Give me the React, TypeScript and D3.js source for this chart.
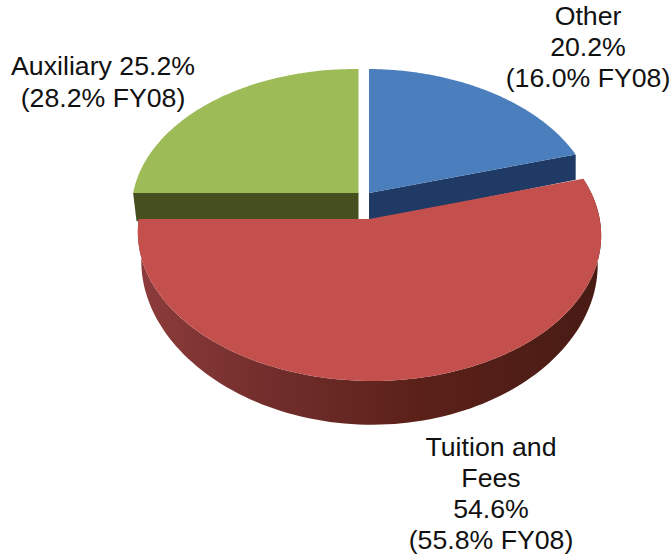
import * as d3 from 'd3'

const categories = ['Other', 'Tuition and Fees', 'Auxiliary']
const shares = [20.2, 54.6, 25.2]

const otherLabel = ['Other', '20.2%', '(16.0% FY08)']
const tuitionLabel = ['Tuition and', 'Fees', '54.6%', '(55.8% FY08)']
const auxiliaryLabel = ['Auxiliary 25.2%', '(28.2% FY08)']

const width = 670
const height = 558

// each wedge has its own projection because the pie is tilted and the slices are pulled apart
// k is the perspective strength, the front of the disc comes out bigger than the back
const views = [
  { cx: 369, cy: 193, rx: 225, ry: 140.5, k: 0.133, taper: 1, top: '#4a7ebc', side: '#1f3b65' },
  { cx: 369.5, cy: 219, rx: 230.5, ry: 145.6, k: 0.101, taper: 0.985, top: '#c3504c', side: 'url(#wall)' },
  { cx: 358.5, cy: 193, rx: 225, ry: 140.5, k: 0.133, taper: 0.985, top: '#9dbc58', side: '#46501f' },
]

type View = (typeof views)[number]

// small lean of the disc, keeps the auxiliary edge flat like in the picture
const lean = 1.75

const depth = (v: number) => 28 / (1 + 0.36 * v)

// disc angle (0 at top, clockwise) to screen position
const project = (view: View, a: number, r = 1): [number, number] => {
  const u = Math.sin(a) * r
  const v = Math.cos(a) * r
  const w = 1 + view.k * v
  return [view.cx + (view.rx * u) / w, view.cy + (lean * u - view.ry * v) / w]
}

// same point, dropped to the lower face of the disc
const lower = (view: View, a: number, r = 1): [number, number] => {
  const [x, y] = project(view, a, r)
  return [view.cx + (x - view.cx) * view.taper, y + depth(Math.cos(a) * r)]
}

const line = d3.line()
const pie = d3.pie<number>().sort(null).value((d) => d)
const wedges = pie(shares)

const steps = (a0: number, a1: number) => {
  const n = 120
  return d3.range(n + 1).map((i) => a0 + ((a1 - a0) * i) / n)
}

const topPath = (view: View, a0: number, a1: number) =>
  line([
    project(view, 0, 0),
    ...steps(a0, a1).map((a) => project(view, a)),
  ]) + 'Z'

const cutPath = (view: View, a: number) =>
  line([
    project(view, 0, 0),
    project(view, a),
    lower(view, a),
    lower(view, 0, 0),
  ]) + 'Z'

const rimPath = (view: View, a0: number, a1: number) =>
  line([
    ...steps(a0, a1).map((a) => project(view, a)),
    ...steps(a0, a1)
      .reverse()
      .map((a) => lower(view, a)),
  ]) + 'Z'

const labelStyle = {
  fontFamily: '"Liberation Sans", Arial, sans-serif',
  fontSize: 26.7,
  fill: '#111',
  textAnchor: 'middle' as const,
}

const Label = ({ lines, x, y, gap }: { lines: string[]; x: number; y: number; gap: number }) => (
  <text style={labelStyle}>
    {lines.map((t, i) => (
      <tspan key={t} x={x} y={y + i * gap}>
        {t}
      </tspan>
    ))}
  </text>
)

const App = () => {
  // draw order: back slices first, tuition sits in front of them
  const order = [2, 0, 1]

  return (
    <svg
      width={width}
      height={height}
      style={{ position: 'absolute', left: 0, top: 0, background: '#fff' }}
    >
      <defs>
        <linearGradient id="wall" gradientUnits="userSpaceOnUse" x1="139" x2="601" y1="0" y2="0">
          <stop offset="0" stopColor="#8d3c3a" />
          <stop offset="0.3" stopColor="#702d2b" />
          <stop offset="0.6" stopColor="#5b2119" />
          <stop offset="1" stopColor="#481b15" />
        </linearGradient>
      </defs>
      {order.map((i) => {
        const w = wedges[i]
        const view = views[i]
        return (
          <g key={categories[i]}>
            {i === 1 ? (
              <path d={rimPath(view, w.startAngle, w.endAngle)} fill={view.side} />
            ) : (
              <path
                d={cutPath(view, i === 0 ? w.endAngle : w.startAngle)}
                fill={view.side}
              />
            )}
            <path d={topPath(view, w.startAngle, w.endAngle)} fill={view.top} />
          </g>
        )
      })}
      <Label lines={otherLabel} x={588} y={25} gap={31} />
      <Label lines={auxiliaryLabel} x={103} y={75} gap={32} />
      <Label lines={tuitionLabel} x={491} y={456} gap={31} />
    </svg>
  )
}

export default App
